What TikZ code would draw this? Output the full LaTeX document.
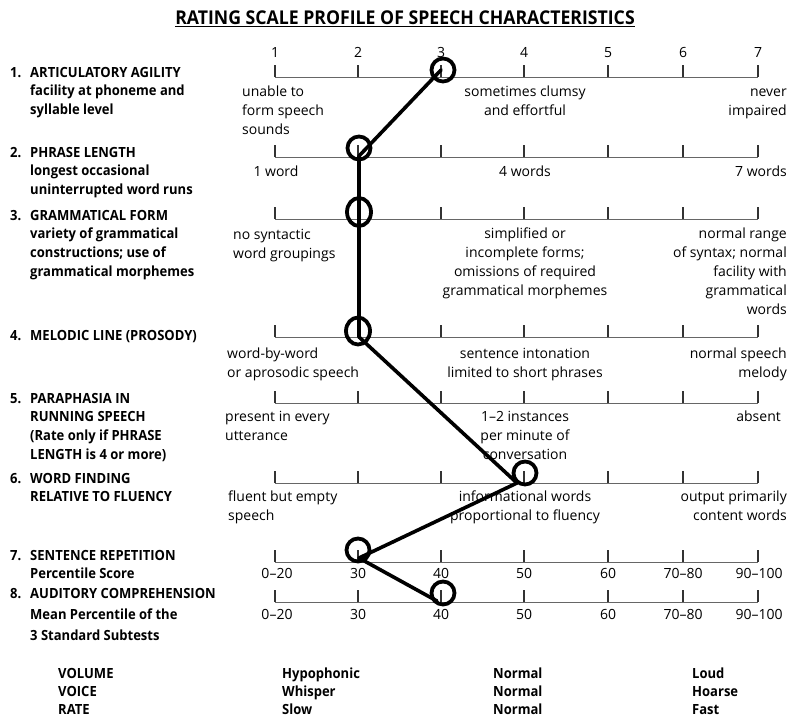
\documentclass[tikz,border=0pt]{standalone}
\usepackage{fontspec}
\usetikzlibrary{shapes.geometric}
\setmainfont{Open Sans}[BoldFeatures={FakeStretch=0.93}]
\newcommand\fl{\rule{0pt}{12pt}}
\begin{document}
\begin{tikzpicture}[x=1pt,y=-1pt,
  lbl/.style={inner sep=0pt, font=\fontsize{14}{18.7}\selectfont\bfseries, align=left, anchor=north west},
  num/.style={inner sep=0pt, font=\fontsize{14}{18.7}\selectfont\bfseries, anchor=north west},
  sc/.style={inner sep=0pt, font=\fontsize{14}{19}\selectfont},
  scl/.style={sc, align=left, anchor=north west},
  scc/.style={sc, align=center, anchor=north},
  scr/.style={sc, align=right, anchor=north east},
  scb/.style={sc, anchor=base},
  scale line/.style={black!60, line width=0.9pt},
  tickmark/.style={black!80, line width=1.1pt},
  profile/.style={black, line width=3.6pt, line cap=round, line join=round},
  ring/.style={draw=black, line width=3.8pt, circle, inner sep=0pt, minimum size=23pt},
  bot/.style={inner sep=0pt, font=\fontsize{14}{18}\selectfont\bfseries, align=left, anchor=north west}
]
\useasboundingbox (0,0) rectangle (791,718);

% title
\node[inner sep=0pt, anchor=base, font=\fontsize{19}{22}\selectfont\bfseries] (title) at (405,24) {RATING SCALE PROFILE OF SPEECH CHARACTERISTICS};
\draw[line width=1.3pt] ([yshift=-2.5pt]title.base west) -- ([yshift=-2.5pt]title.base east);

% scale lines and ticks
\foreach \yy in {77,157,219,337,403,483,562,602}{
  \draw[scale line] (275,\yy) -- (758,\yy);
  \foreach \xx in {275,358,441,524,608,683,758}{
    \draw[tickmark] (\xx,\yy) -- (\xx,\yy-12);
  }
}

% scale numbers
\foreach \xx/\t [count=\i] in {275/1,358/2,441/3,524/4,608/5,683/6,758/7}{
  \node[scb] (n\i) at (\xx,57) {\t};
}

% left labels
\node[num] (k1) at (10,65) {\fl 1.};
\node[lbl] (t1) at (30,65) {\fl ARTICULATORY AGILITY\\facility at phoneme and\\syllable level};
\node[num] (k2) at (10,145) {\fl 2.};
\node[lbl] (t2) at (30,145) {\fl PHRASE LENGTH\\longest occasional\\uninterrupted word runs};
\node[num] (k3) at (10,208) {\fl 3.};
\node[lbl] (t3) at (30,208) {\fl GRAMMATICAL FORM\\variety of grammatical\\constructions; use of\\grammatical morphemes};
\node[num] (k4) at (10,328) {\fl 4.};
\node[lbl] (t4) at (30,328) {\fl MELODIC LINE (PROSODY)};
\node[num] (k5) at (10,391) {\fl 5.};
\node[lbl] (t5) at (30,391) {\fl PARAPHASIA IN\\RUNNING SPEECH\\(Rate only if PHRASE\\LENGTH is 4 or more)};
\node[num] (k6) at (10,471) {\fl 6.};
\node[lbl] (t6) at (30,471) {\fl WORD FINDING\\RELATIVE TO FLUENCY};
\node[num] (k7) at (10,548) {\fl 7.};
\node[lbl] (t7) at (30,548) {\fl SENTENCE REPETITION\\Percentile Score};
\node[num] (k8) at (10,586) {\fl 8.};
\node[lbl, font=\fontsize{14}{21}\selectfont\bfseries] (t8) at (30,586) {\fl AUDITORY COMPREHENSION\\Mean Percentile of the\\3 Standard Subtests};

% row 1 descriptors
\node[scl] (a1) at (242,84) {\fl unable to\\form speech\\sounds};
\node[scc] (a2) at (525,84) {\fl sometimes clumsy\\and effortful};
\node[scr] (a3) at (787,84) {\fl never\\impaired};
% row 2
\node[scb] (b1) at (276,176) {1 word};
\node[scb] (b2) at (525,176) {4 words};
\node[sc, anchor=base east] (b3) at (787,176) {7 words};
% row 3
\node[scl] (c1) at (233,227) {\fl no syntactic\\word groupings};
\node[scc] (c2) at (525,226) {\fl simplified or\\incomplete forms;\\omissions of required\\grammatical morphemes};
\node[scr] (c3) at (787,226) {\fl normal range\\of syntax; normal\\facility with\\grammatical\\words};
% row 4
\node[scl] (d1) at (227,346) {\fl word-by-word\\or aprosodic speech};
\node[scc] (d2) at (525,346) {\fl sentence intonation\\limited to short phrases};
\node[scr] (d3) at (787,346) {\fl normal speech\\melody};
% row 5
\node[scl] (e1) at (225,409) {\fl present in every\\utterance};
\node[scc] (e2) at (525,409) {\fl 1–2 instances\\per minute of\\conversation};
\node[scr] (e3) at (781,409) {\fl absent};
% row 6
\node[scl] (f1) at (228,489) {\fl fluent but empty\\speech};
\node[scc] (f2) at (525,489) {\fl informational words\\proportional to fluency};
\node[scr] (f3) at (787,489) {\fl output primarily\\content words};
% rows 7 and 8 percentiles
\foreach \xx/\t [count=\i] in {277/0–20,358/30,441/40,524/50,608/60,683/70–80,759/90–100}{
  \node[scb] (g\i) at (\xx,578) {\t};
  \node[scb] (h\i) at (\xx,619) {\t};
}

% bottom
\node[bot] (m1) at (58,666) {\fl VOLUME\\VOICE\\RATE};
\node[bot] (m2) at (282,666) {\fl Hypophonic\\Whisper\\Slow};
\node[bot] (m3) at (493,666) {\fl Normal\\Normal\\Normal};
\node[bot] (m4) at (692,666) {\fl Loud\\Hoarse\\Fast};

% profile
\coordinate (v1) at (441,70);
\coordinate (v2) at (359,156);
\coordinate (v4) at (359,337);
\coordinate (v6) at (517,483);
\coordinate (v7) at (359,558);
\coordinate (v8) at (437,601);
\draw[profile] (v1) -- (v2) -- (v4) -- (v6) -- (v7) -- (v8);

\node[ring] (r1) at (443,70) {};
\node[ring] (r2) at (359,148) {};
\node[ring, ellipse, minimum width=24pt, minimum height=28pt] (r3) at (359,212) {};
\node[ring, ellipse, minimum width=24pt, minimum height=27pt] (r4) at (358,331) {};
\node[ring] (r6) at (525,473) {};
\node[ring] (r7) at (358,550) {};
\node[ring] (r8) at (443,593) {};
\end{tikzpicture}
\end{document}
